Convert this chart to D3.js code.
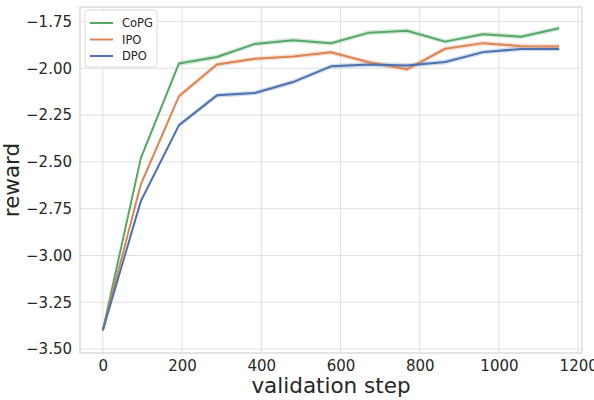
<html>
<head>
  <meta charset="utf-8">
  <script src="https://d3js.org/d3.v7.min.js"></script>
  <style>
    body { margin: 0; background: #fff; }
    text { font-family: "DejaVu Sans", sans-serif; fill: #262626; }
  </style>
</head>
<body>
<script>
// data
var steps = [0, 96, 192, 288, 384, 480, 576, 672, 768, 864, 960, 1056, 1152];
var copg = [-3.40, -2.48, -1.975, -1.94, -1.87, -1.85, -1.867, -1.81, -1.80, -1.858, -1.818, -1.832, -1.786];
var ipo  = [-3.40, -2.62, -2.15, -1.98, -1.95, -1.937, -1.915, -1.968, -2.006, -1.896, -1.866, -1.882, -1.884];
var dpo  = [-3.40, -2.71, -2.305, -2.145, -2.132, -2.074, -1.99, -1.98, -1.985, -1.967, -1.914, -1.897, -1.897];
var band = [0.004, 0.013, 0.013, 0.013, 0.013, 0.013, 0.013, 0.013, 0.013, 0.013, 0.013, 0.013, 0.013];
var seriesNames = ['CoPG', 'IPO', 'DPO'];
var colors = ['#55a868', '#dd8452', '#4c72b0'];
var xTicks = [0, 200, 400, 600, 800, 1000, 1200];
var yTicks = [-3.5, -3.25, -3.0, -2.75, -2.5, -2.25, -2.0, -1.75];

var width = 594, height = 400;
var m = {left: 80, right: 12, top: 7, bottom: 47};

var svg = d3.select('body').append('svg')
  .attr('width', width)
  .attr('height', height);

var x = d3.scaleLinear().domain([-57.6, 1209.6]).range([m.left, width - m.right]);
var y = d3.scaleLinear().domain([-3.521, -1.673]).range([height - m.bottom, m.top]);

// grid
var grid = svg.append('g');
grid.selectAll('line.v').data(xTicks).enter().append('line')
  .attr('x1', function(d){ return x(d); }).attr('x2', function(d){ return x(d); })
  .attr('y1', m.top).attr('y2', height - m.bottom)
  .attr('stroke', '#dedede').attr('stroke-width', 0.9);
grid.selectAll('line.h').data(yTicks).enter().append('line')
  .attr('y1', function(d){ return y(d); }).attr('y2', function(d){ return y(d); })
  .attr('x1', m.left).attr('x2', width - m.right)
  .attr('stroke', '#dedede').attr('stroke-width', 0.9);

// axes (labels only, seaborn whitegrid has no tick marks)
var fmt = function(d){ return d3.format('.2f')(d).replace('-', '\u2212'); };
svg.append('g')
  .attr('transform', 'translate(0,' + (height - m.bottom) + ')')
  .call(d3.axisBottom(x).tickValues(xTicks).tickFormat(d3.format('d')).tickSize(0).tickPadding(7))
  .call(function(g){ g.select('.domain').remove(); })
  .selectAll('text').style('font-size', '15px').attr('fill', '#262626');
svg.append('g')
  .attr('transform', 'translate(' + m.left + ',0)')
  .call(d3.axisLeft(y).tickValues(yTicks).tickFormat(fmt).tickSize(0).tickPadding(8))
  .call(function(g){ g.select('.domain').remove(); })
  .selectAll('text').style('font-size', '15px').attr('fill', '#262626');

// frame
svg.append('rect')
  .attr('x', m.left).attr('y', m.top)
  .attr('width', width - m.left - m.right).attr('height', height - m.top - m.bottom)
  .attr('fill', 'none').attr('stroke', '#d4d4d4').attr('stroke-width', 1.2);

var all = [copg, ipo, dpo];
var area = d3.area()
  .x(function(d, i){ return x(steps[i]); })
  .y0(function(d, i){ return y(d - band[i]); })
  .y1(function(d, i){ return y(d + band[i]); });
var line = d3.line()
  .x(function(d, i){ return x(steps[i]); })
  .y(function(d){ return y(d); });

var plot = svg.append('g');
all.forEach(function(s, k){
  plot.append('path').attr('d', area(s)).attr('fill', colors[k]).attr('opacity', 0.25);
});
all.forEach(function(s, k){
  plot.append('path').attr('d', line(s)).attr('fill', 'none')
    .attr('stroke', colors[k]).attr('stroke-width', 2).attr('stroke-linejoin', 'round');
});

// legend
var lg = svg.append('g').attr('transform', 'translate(85,10)');
lg.append('rect').attr('width', 72).attr('height', 57).attr('rx', 3)
  .attr('fill', '#fff').attr('fill-opacity', 0.8).attr('stroke', '#dcdcdc');
seriesNames.forEach(function(n, k){
  var yy = 13 + k * 16.5;
  lg.append('line').attr('x1', 5).attr('x2', 28).attr('y1', yy).attr('y2', yy)
    .attr('stroke', colors[k]).attr('stroke-width', 2);
  lg.append('text').attr('x', 37).attr('y', yy + 4).style('font-size', '11.5px').text(n);
});

// axis titles
svg.append('text').attr('x', (m.left + width - m.right) / 2).attr('y', 393)
  .attr('text-anchor', 'middle').style('font-size', '21.5px').text('validation step');
svg.append('text').attr('transform', 'translate(19,' + ((m.top + height - m.bottom) / 2) + ') rotate(-90)')
  .attr('text-anchor', 'middle').style('font-size', '21.5px').text('reward');
</script>
</body>
</html>
